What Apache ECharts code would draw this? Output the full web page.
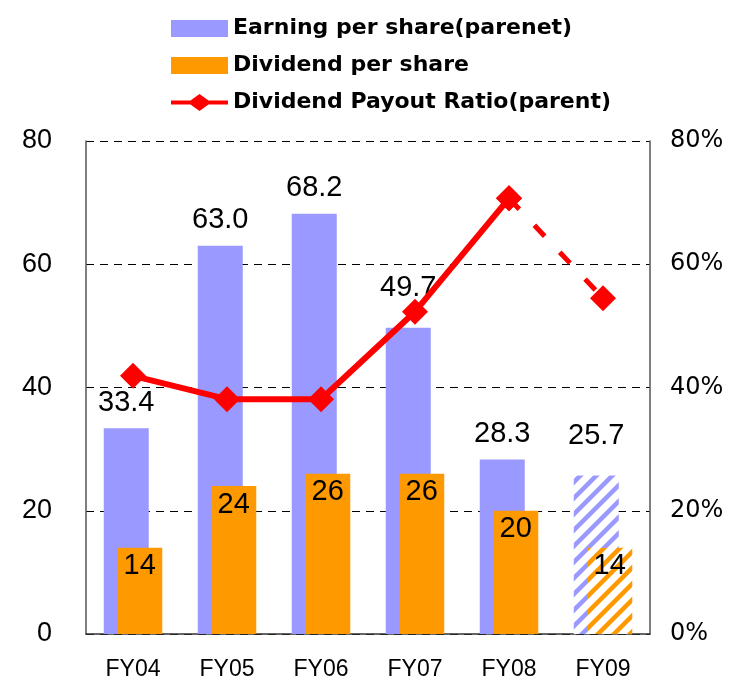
<!DOCTYPE html>
<html>
<head>
	<meta charset="utf-8">
	<title>EPS / DPS</title>
	<script src="https://cdn.jsdelivr.net/npm/echarts@6/dist/echarts.min.js"></script>
	<style type="text/css">
		html, body { margin: 0; padding: 0; background: #ffffff; }
		#main { width: 733px; height: 681px; }
	</style>
</head>
<body>
	<div id="main"></div>
	<script type="text/javascript">
		var years = ['FY04', 'FY05', 'FY06', 'FY07', 'FY08', 'FY09'];
		var eps = [33.4, 63.0, 68.2, 49.7, 28.3, 25.7];
		var dps = [14, 24, 26, 26, 20, 14];
		var payout = [41.9, 38.1, 38.1, 52.3, 70.7, 54.5];   // %
		var forecastIndex = 5;   // FY09 is a forecast (hatched / dashed)
		var yTicks = [0, 20, 40, 60, 80];

		var names = ['Earning per share(parenet)', 'Dividend per share', 'Dividend Payout Ratio(parent)'];

		function hatch(color) {
			var s = 16;
			var c = document.createElement('canvas');
			c.width = s; c.height = s;
			var g = c.getContext('2d');
			g.fillStyle = '#ffffff';
			g.fillRect(0, 0, s, s);
			g.strokeStyle = color;
			g.lineWidth = 4.5;
			g.beginPath();
			g.moveTo(-2, s + 2); g.lineTo(s + 2, -2);
			g.moveTo(-s - 2, s + 2); g.lineTo(2, -2);
			g.moveTo(-2, 2 * s + 2); g.lineTo(2 * s + 2, -2);
			g.stroke();
			return c;
		}

		function barData(values, color, labelDistance) {
			var out = [];
			for (var i = 0; i < values.length; i++) {
				var item = { value: values[i] };
				if (i == forecastIndex) {
					item.itemStyle = { color: { image: hatch(color), repeat: 'repeat' } };
				}
				if (labelDistance && labelDistance[i] != null) {
					item.label = { distance: labelDistance[i] };
				}
				out.push(item);
			}
			return out;
		}

		// solid part of the line stops at FY08, dashed part goes FY08 -> FY09
		var solidLine = [], dashLine = [];
		for (var i = 0; i < payout.length; i++) {
			solidLine.push(i < forecastIndex ? payout[i] : null);
			dashLine.push(i >= forecastIndex - 1 ? payout[i] : null);
		}

		// line + diamond icon for the legend (57 x 17 box)
		var lineIcon = 'path://M0,6.5L19.5,6.5L28.5,0L37.5,6.5L57,6.5L57,10.5L37.5,10.5L28.5,17L19.5,10.5L0,10.5Z';

		var myChart = echarts.init(document.getElementById('main'));
		var option = {
			animation: false,
			textStyle: { fontFamily: 'Liberation Sans' },
			legend: {
				data: [
					{ name: names[0], icon: 'rect' },
					{ name: names[1], icon: 'rect' },
					{ name: names[2], icon: lineIcon }
				],
				orient: 'vertical',
				left: 166,
				top: 12,
				itemWidth: 57,
				itemHeight: 17,
				itemGap: 14,
				symbolKeepAspect: false,
				textStyle: {
					fontSize: 22,
					lineHeight: 23,
					fontWeight: 'bold',
					color: '#000',
					fontFamily: 'DejaVu Sans'
				}
			},
			grid: {
				left: 86,
				right: 83,
				top: 141,
				bottom: 45
			},
			xAxis: {
				type: 'category',
				data: years,
				axisLine: { lineStyle: { color: '#333', width: 1.5 } },
				axisTick: { inside: true, length: 5, lineStyle: { color: '#666', width: 1.5 } },
				axisLabel: { fontSize: 23, color: '#000', margin: 24 }
			},
			yAxis: [
				{
					type: 'value',
					min: yTicks[0],
					max: yTicks[yTicks.length - 1],
					interval: 20,
					axisLine: { show: true, lineStyle: { color: '#555', width: 1.5 } },
					axisTick: { show: false },
					axisLabel: { fontSize: 27, color: '#000', margin: 34 },
					splitLine: { lineStyle: { color: '#000', type: [8, 6], width: 1 } }
				},
				{
					type: 'value',
					min: yTicks[0],
					max: yTicks[yTicks.length - 1],
					interval: 20,
					axisLine: { show: true, lineStyle: { color: '#555', width: 1.5 } },
					axisTick: { show: false },
					axisLabel: { fontSize: 24, color: '#000', margin: 20, formatter: '{value}%', fontFamily: 'DejaVu Sans' },
					splitLine: { show: false }
				}
			],
			series: [
				{
					name: names[0],
					type: 'bar',
					barWidth: 45,
					barGap: '-70%',
					itemStyle: { color: '#9999ff' },
					label: {
						show: true,
						position: 'top',
						distance: 11,
						fontSize: 29,
						color: '#000',
						formatter: function (p) { return p.value.toFixed(1); }
					},
					data: barData(eps, '#9999ff', [null, null, null, 25, null, 25])
				},
				{
					name: names[1],
					type: 'bar',
					barWidth: 45,
					barGap: '-70%',
					itemStyle: { color: '#ff9900' },
					label: {
						show: true,
						position: 'insideTop',
						distance: 4,
						fontSize: 29,
						color: '#000'
					},
					data: barData(dps, '#ff9900')
				},
				{
					name: names[2],
					type: 'line',
					yAxisIndex: 1,
					symbol: 'diamond',
					symbolSize: 26,
					z: 5,
					itemStyle: { color: '#ff0000' },
					lineStyle: { color: '#ff0000', width: 6 },
					data: solidLine
				},
				{
					name: 'forecast',
					type: 'line',
					yAxisIndex: 1,
					symbol: 'diamond',
					symbolSize: 26,
					z: 4,
					itemStyle: { color: '#ff0000' },
					lineStyle: { color: '#ff0000', width: 5, type: [15, 22], dashOffset: 0 },
					data: dashLine
				}
			]
		};
		myChart.setOption(option);
	</script>
</body>
</html>
